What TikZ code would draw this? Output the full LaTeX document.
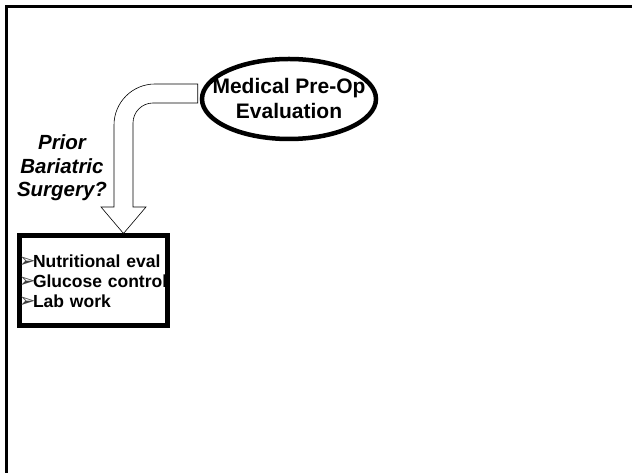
\documentclass[tikz,border=0pt]{standalone}
\usepackage{fontspec}
\setmainfont{Liberation Sans}
\newfontfamily\dejavu{DejaVu Sans}
\usetikzlibrary{shapes.geometric, calc}

\newcommand{\tipitem}[1]{\mbox{\makebox[14pt][l]{\smash{\dejavu\fontsize{20}{20}\selectfont\textcolor{black!75}{➢}}}#1}}

\begin{document}
\begin{tikzpicture}[x=1pt, y=1pt,
  evalnode/.style={draw, ellipse, line width=4.5pt, fill=white, minimum width=174pt, minimum height=80pt, inner xsep=-15pt, inner ysep=0pt, align=center, font=\bfseries\fontsize{21}{25}\selectfont},
  listbox/.style={draw, line width=5pt, minimum width=148pt, minimum height=90pt, text width=148pt, inner sep=0pt, align=left, font=\bfseries\fontsize{17.5}{20}\selectfont},
  fatarrow/.style={draw, fill=white, line width=0.6pt, line join=miter},
  question/.style={align=center, font=\bfseries\itshape\fontsize{20.5}{23.5}\selectfont}
]
  \useasboundingbox (0,0) rectangle (632,473);
  % slide frame
  \draw[line width=3pt] (6.5,0) |- (632,466);

  \node[evalnode] (eval) at (289,374) {Medical Pre-Op\\Evaluation};
  \node[listbox] (labs) at (93,192) {\tipitem{Nutritional eval}\\\tipitem{Glucose control}\\\tipitem{Lab work}};
  \node[question] (prior) at (62,305) {Prior\\Bariatric\\Surgery?};

  % bent block arrow from the evaluation down to the list
  \draw[fatarrow] let \p1 = (eval.west), \p2 = (labs.north) in
    (\x1-2pt,\y1+15pt) -- (\x2+62pt,\y1+15pt) arc[start angle=90, end angle=180, radius=41pt]
    -- (\x2+21pt,\y2+26.5pt) -- (\x2+8pt,\y2+26.5pt) -- (\x2+30.5pt,\y2)
    -- (\x2+53pt,\y2+26.5pt) -- (\x2+40pt,\y2+26.5pt)
    -- (\x2+40pt,\y1-24pt) arc[start angle=180, end angle=90, radius=20pt]
    -- (\x1-2pt,\y1-4pt) -- cycle;
\end{tikzpicture}
\end{document}
